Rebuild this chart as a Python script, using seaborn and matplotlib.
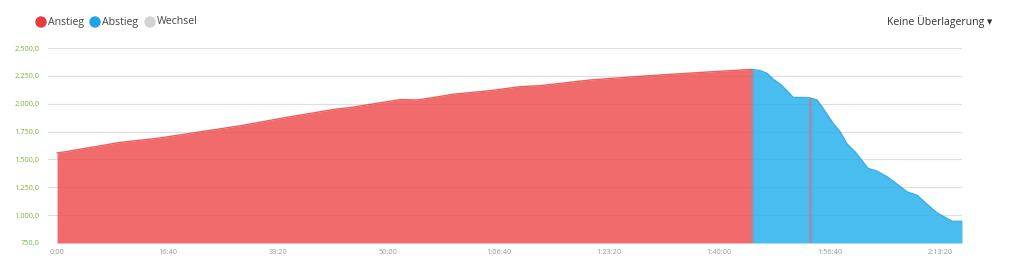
import matplotlib
matplotlib.use("Agg")
import matplotlib.pyplot as plt
import seaborn as sns
import pandas as pd
import numpy as np

# ---- data (seconds, metres) ----
climb_t = [0, 72, 571, 906, 1359, 1658, 2111, 2536, 2654, 3107, 3261, 3406,
           3587, 3922, 4194, 4375, 4828, 5371, 5851, 6250, 6295]
climb_e = [1559, 1568, 1653, 1689, 1757, 1802, 1883, 1953, 1965, 2037, 2034, 2055,
           2085, 2117, 2153, 2162, 2213, 2252, 2282, 2306, 2308]
descent_t = [6295, 6368, 6431, 6486, 6549, 6612, 6667, 6793, 6821, 6884, 6938,
             7029, 7092, 7156, 7228, 7346, 7428, 7518, 7609, 7699, 7790, 7880,
             7971, 8025, 8107, 8197]
descent_e = [2308, 2297, 2273, 2220, 2177, 2117, 2057, 2055, 2052, 2034, 1959,
             1824, 1749, 1638, 1568, 1419, 1395, 1344, 1278, 1209, 1179, 1098,
             1020, 990, 945, 945]
change_t = [6295, 6821]
change_e = [2308, 2052]
y_ticks = [750, 1000, 1250, 1500, 1750, 2000, 2250, 2500]
x_ticks = [0, 1000, 2000, 3000, 4000, 5000, 6000, 7000, 8000]
legend_labels = ["Anstieg", "Abstieg", "Wechsel"]
overlay_label = "Keine Überlagerung"

RED_FILL = "#F26B6C"
BLUE_FILL = "#4ABDF0"
RED_DOT = "#E53B3B"
BLUE_DOT = "#1FA3E8"
GRAY_DOT = "#D3D3D3"

sns.set_theme(style="white")
plt.rcParams['font.family'] = ['Open Sans', 'DejaVu Sans']

df = pd.concat([
    pd.DataFrame({"t": climb_t, "e": climb_e, "seg": "Anstieg"}),
    pd.DataFrame({"t": descent_t, "e": descent_e, "seg": "Abstieg"}),
])

fig = plt.figure(figsize=(10.24, 2.64), dpi=100)
ax = fig.add_axes([48 / 1024, 1 - 243 / 264, (962 - 48) / 1024, (243 - 48) / 264])

ax.set_ylim(750, 2500)
ax.set_xlim(-82, 8197)

for y in y_ticks:
    ax.axhline(y, color="#E6E6E6", lw=0.9, zorder=0)
    ax.axhline(y, color="#000000", lw=0.6, alpha=0.04, zorder=5)

ax.fill_between(climb_t, climb_e, 750, color=RED_FILL, lw=0, zorder=2)
ax.fill_between(descent_t, descent_e, 750, color=BLUE_FILL, lw=0, zorder=2)
sns.lineplot(data=df, x="t", y="e", hue="seg",
             palette={"Anstieg": "#E86060", "Abstieg": "#3AAFE3"},
             lw=1.0, legend=False, ax=ax, zorder=3, sort=False)

# change markers
for ct, ce in zip(change_t, change_e):
    ax.plot([ct, ct], [750, ce], color="#A08CA6", lw=2.0, alpha=0.9,
            zorder=6, solid_capstyle="butt")

for s in ax.spines.values():
    s.set_visible(False)

def fmt_elev(v):
    s = f"{v:,.1f}"
    return s.replace(",", "X").replace(".", ",").replace("X", ".")

def fmt_time(v):
    v = int(v)
    h, r = divmod(v, 3600)
    m, s = divmod(r, 60)
    return f"{h}:{m:02d}:{s:02d}" if h else f"{m}:{s:02d}"

ax.set_yticks(y_ticks)
ax.set_yticklabels([fmt_elev(v) for v in y_ticks], color="#7DB33A", fontsize=5.3)
ax.set_xticks(x_ticks)
ax.set_xticklabels([fmt_time(v) for v in x_ticks], color="#999999", fontsize=5.3)
ax.tick_params(axis="both", length=0)
ax.tick_params(axis="y", pad=6)
ax.tick_params(axis="x", pad=4)
ax.set_xlabel("")
ax.set_ylabel("")

# legend (custom)
dot_x = [41, 95, 150]
text_x = [48, 102, 157]
dot_c = [RED_DOT, BLUE_DOT, GRAY_DOT]
for dx, tx, c, lab in zip(dot_x, text_x, dot_c, legend_labels):
    fig.patches.append(matplotlib.patches.Ellipse((dx / 1024, 1 - 22 / 264), 10 / 1024, 10 / 264,
                                                  transform=fig.transFigure, color=c))
    fig.text(tx / 1024, 1 - 22 / 264, lab, fontsize=7.6, color="#444444", va="center", ha="left")

fig.text(992 / 1024, 1 - 22 / 264, overlay_label + " \u25BE", fontsize=7.6, color="#333333",
         va="center", ha="right")

fig.savefig("out.png", dpi=100)
